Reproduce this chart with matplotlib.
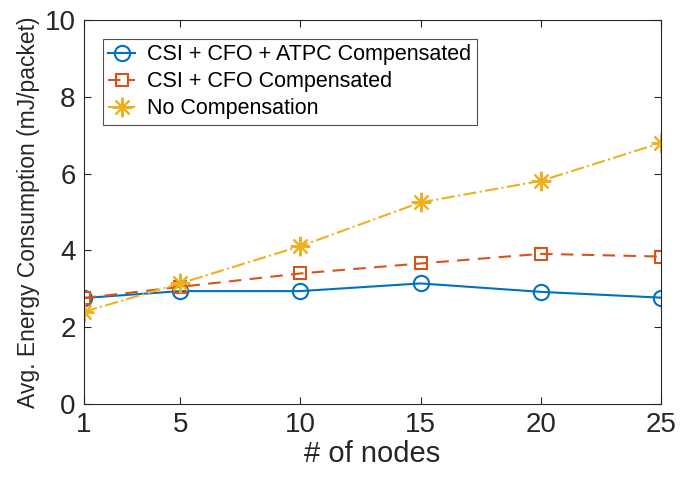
import matplotlib
matplotlib.use("Agg")
import matplotlib.pyplot as plt

plt.rcParams['font.family'] = ['Liberation Sans', 'DejaVu Sans']

nodes = [1, 5, 10, 15, 20, 25]
atpc = [2.76, 2.94, 2.94, 3.14, 2.92, 2.77]
cfo = [2.76, 3.05, 3.40, 3.66, 3.91, 3.84]
none = [2.40, 3.14, 4.11, 5.25, 5.81, 6.80]
xticks = [1, 5, 10, 15, 20, 25]
yticks = [0, 2, 4, 6, 8, 10]

fig = plt.figure(figsize=(6.8, 4.84), dpi=100)
ax = fig.add_axes([84/680, 1 - 404/484, (661-84)/680, (404-20)/484])

ax.plot(nodes, atpc, '-', color='#0072BD', marker='o', markersize=11, markerfacecolor='none',
        markeredgewidth=1.5, linewidth=1.5, label='CSI + CFO + ATPC Compensated')
ax.plot(nodes, cfo, '--', color='#D95319', marker='s', markersize=9, markerfacecolor='none',
        markeredgewidth=1.5, linewidth=1.5, dashes=(6, 4), label='CSI + CFO Compensated')
ax.plot(nodes, none, '-.', color='#EDB120', marker=(8, 2, 0), markersize=14,
        markeredgewidth=1.5, linewidth=1.5, label='No Compensation')

ax.set_xlim(1, 25)
ax.set_ylim(0, 10)
ax.set_xticks(xticks)
ax.set_yticks(yticks)
ax.tick_params(direction='in', top=True, right=True, labelsize=20, colors='#262626', length=5, pad=6)
for s in ax.spines.values():
    s.set_color('#262626')
    s.set_linewidth(0.8)
ax.set_xlabel('# of nodes', fontsize=21, color='#262626', labelpad=1)
ax.set_ylabel('Avg. Energy Consumption (mJ/packet)', fontsize=16.5, color='#262626', labelpad=3)

leg = ax.legend(loc='upper left', bbox_to_anchor=(19/577, 1 - 19/384), fontsize=15.5,
                frameon=True, fancybox=False, edgecolor='#262626', borderpad=0.25,
                labelspacing=0.28, handlelength=1.25, handletextpad=0.55, borderaxespad=0)
leg.get_frame().set_linewidth(0.8)

fig.savefig('out.png', dpi=100)
